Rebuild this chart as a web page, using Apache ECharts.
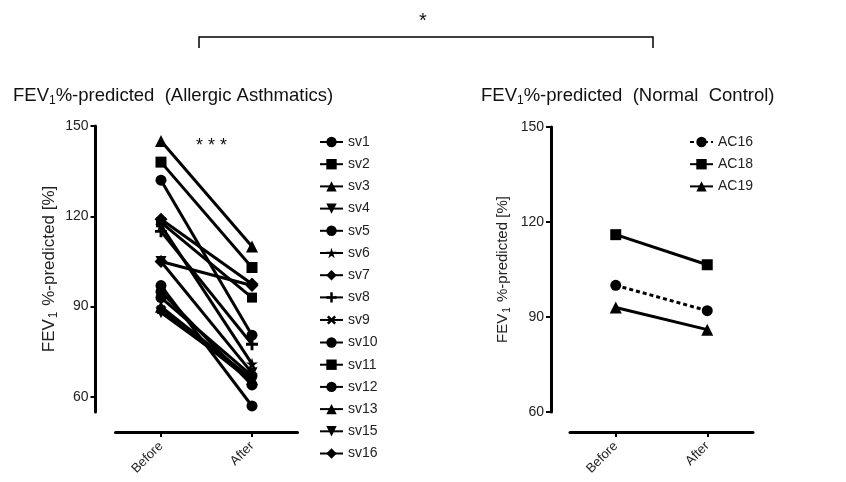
<!DOCTYPE html>
<html><head><meta charset="utf-8">
<script src="https://cdn.jsdelivr.net/npm/echarts@6/dist/echarts.min.js"></script>
<style>html,body{margin:0;padding:0;background:#fff}#c{width:846px;height:482px}</style>
</head><body><div id="c"></div>
<script>
// ---- data ----
const categories = ['Before', 'After'];
const yTicks = [60, 90, 120, 150];
const asthmaNames = ['sv1','sv2','sv3','sv4','sv5','sv6','sv7','sv8','sv9','sv10','sv11','sv12','sv13','sv15','sv16'];
const asthmaBefore = [132, 118, 90, 105, 95, 117, 119, 115, 89, 97, 138, 93, 145, 88, 105];
const asthmaAfter  = [80.5, 93, 66, 68, 64, 71, 97.5, 77.5, 65, 57, 103, 67, 110, 66, 97];
const controlNames = ['AC16','AC18','AC19'];
const controlBefore = [100, 116, 93];
const controlAfter  = [92, 106.5, 86];

// ---- styles ----
const FONT = 'Arial, "Liberation Sans", sans-serif';
const DOWN = 'path://M0,0L10,0L5,9Z';
const STAR = 'path://M5,0L6.2,3.6L10,3.6L6.9,5.9L8.1,9.5L5,7.3L1.9,9.5L3.1,5.9L0,3.6L3.8,3.6Z';
const PLUS = 'path://M3.8,0H6.2V3.8H10V6.2H6.2V10H3.8V6.2H0V3.8H3.8Z';
const asthmaSymbols = [
  ['circle',11,0],['rect',10,0],['triangle',12,0],[DOWN,11,0],['circle',11,0],
  [STAR,12,0],['diamond',13,0],[PLUS,12,0],[PLUS,11,45],['circle',11,0],
  ['rect',11,0],['circle',11,0],['triangle',12,0],[DOWN,11,0],['diamond',13,0]
];
const controlSymbols = [['circle',11,0],['rect',11,0],['triangle',12,0]];
const controlLineType = [[4,3],'solid','solid'];

const series = [];
asthmaNames.forEach((n,i)=>{
  series.push({
    name:n, type:'line', xAxisIndex:0, yAxisIndex:0,
    data:[asthmaBefore[i], asthmaAfter[i]],
    symbol:asthmaSymbols[i][0], symbolSize:asthmaSymbols[i][1], symbolRotate:asthmaSymbols[i][2],
    showAllSymbol:true,
    lineStyle:{color:'#000', width:3}, itemStyle:{color:'#000', borderWidth:0},
    emphasis:{disabled:true}
  });
});
controlNames.forEach((n,i)=>{
  series.push({
    name:n, type:'line', xAxisIndex:1, yAxisIndex:1,
    data:[controlBefore[i], controlAfter[i]],
    symbol:controlSymbols[i][0], symbolSize:controlSymbols[i][1],
    lineStyle:{color:'#000', width:3, type:controlLineType[i]}, itemStyle:{color:'#000', borderWidth:0},
    emphasis:{disabled:true}
  });
});

function yAxis(gridIndex, min, offset, nameSize, nameGap){
  return {
    type:'value', gridIndex, min, max:150, offset,
    name:'{n|FEV}{s|1}{n| %-predicted [%]}',
    nameLocation:'middle', nameRotate:90, nameGap,
    nameTextStyle:{rich:{
      n:{fontSize:nameSize, fontFamily:FONT, color:'#222', lineHeight:nameSize+3},
      s:{fontSize:Math.round(nameSize*0.68), fontFamily:FONT, color:'#222', lineHeight:nameSize-4, verticalAlign:'bottom', padding:[0,1,0,1]}
    }},
    axisLine:{show:true, lineStyle:{color:'#000', width:3}},
    axisTick:{show:true, length:5, lineStyle:{color:'#000', width:2}, customValues:yTicks},
    axisLabel:{fontSize:14, fontFamily:FONT, color:'#222', margin:7, customValues:yTicks},
    splitLine:{show:false}
  };
}
function xAxis(gridIndex){
  return {
    type:'category', gridIndex, data:categories, boundaryGap:true, offset:20,
    axisLine:{show:true, lineStyle:{color:'#000', width:3}},
    axisTick:{show:true, alignWithLabel:true, length:5, lineStyle:{color:'#000', width:2}},
    axisLabel:{rotate:45, fontSize:13, fontFamily:FONT, color:'#222', margin:12},
    splitLine:{show:false}
  };
}
const titleRich = {
  n:{fontSize:18.5, fontWeight:'normal', fontFamily:FONT, color:'#111', lineHeight:22},
  s:{fontSize:12, fontWeight:'normal', fontFamily:FONT, color:'#111', lineHeight:14, verticalAlign:'bottom'}
};

const option = {
  animation:false,
  backgroundColor:'#fff',
  title:[
    {text:'{n|FEV}{s|1}{n|%-predicted  (Allergic Asthmatics)}', left:8, top:80, textStyle:{fontWeight:'normal', rich:titleRich}},
    {text:'{n|FEV}{s|1}{n|%-predicted  (Normal  Control)}', left:476, top:80, textStyle:{fontWeight:'normal', rich:titleRich}}
  ],
  grid:[
    {left:115.5, width:182, top:126, height:286},
    {left:570, width:183, top:127, height:285}
  ],
  xAxis:[xAxis(0), xAxis(1)],
  yAxis:[yAxis(0,55,20,17,36), yAxis(1,60,19,15,39)],
  legend:[
    {data:asthmaNames, orient:'vertical', left:314, top:130, height:360, itemWidth:23, itemHeight:13, itemGap:8.2,
     textStyle:{fontSize:14, fontFamily:FONT, color:'#222'}, selectedMode:false},
    {data:controlNames, orient:'vertical', left:684, top:130, itemWidth:23, itemHeight:13, itemGap:8.2,
     textStyle:{fontSize:14, fontFamily:FONT, color:'#222'}, selectedMode:false}
  ],
  graphic:[
    {type:'polyline', shape:{points:[[199,48],[199,37],[653,37],[653,48]]}, style:{stroke:'#000', lineWidth:1.5, fill:null}},
    {type:'text', left:419, top:11, style:{text:'*', fontSize:20, fontFamily:FONT, fill:'#111'}},
    {type:'text', left:196, top:137, style:{text:'* * *', fontSize:18, fontFamily:FONT, fill:'#111'}}
  ],
  series
};
const chart = echarts.init(document.getElementById('c'), null, {renderer:'canvas'});
chart.setOption(option);
</script>
</body></html>
